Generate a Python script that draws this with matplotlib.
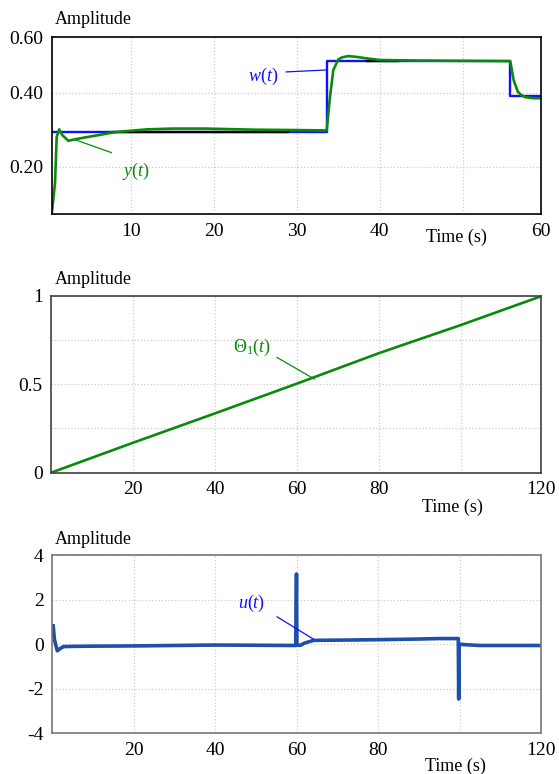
import numpy as np
import matplotlib
matplotlib.use("Agg")
import matplotlib.pyplot as plt

plt.rcParams['font.family'] = ['Liberation Serif', 'DejaVu Serif']
plt.rcParams['mathtext.fontset'] = 'custom'
plt.rcParams['mathtext.rm'] = 'Liberation Serif'
plt.rcParams['mathtext.it'] = 'Liberation Serif:italic'

# ---- panel 1 : set point w(t) and output y(t)
w_t = [0.5, 33.6, 33.6, 55.7, 55.7, 59.4]
w_val = [0.295, 0.295, 0.514, 0.514, 0.391, 0.391]
y_t = [0.5, 0.9, 1.1, 1.4, 1.8, 2.5, 3.3, 4.5, 6.3, 8.0, 9.9, 12, 15, 19, 25, 30, 33.6,
       34.0, 34.4, 35.0, 35.5, 36.2, 37.0, 38.4, 40, 44.8, 50, 55.7, 56.1, 56.6, 57.0, 57.5, 58.5, 59.4]
y_val = [0.071, 0.156, 0.281, 0.301, 0.285, 0.270, 0.274, 0.279, 0.286, 0.293, 0.297, 0.301, 0.303, 0.303, 0.300, 0.299, 0.298,
         0.389, 0.482, 0.520, 0.528, 0.532, 0.530, 0.524, 0.518, 0.516, 0.515, 0.514, 0.446, 0.404, 0.394, 0.388, 0.385, 0.385]
ref_t = [7.9, 29.0, np.nan, 38.5, 42.2]
ref_val = [0.295, 0.295, np.nan, 0.514, 0.514]

# ---- panel 2 : Theta_1(t)
th_t = [0, 20, 40, 60, 80, 100, 120]
th_val = [0.0, 0.169, 0.335, 0.503, 0.675, 0.834, 1.0]

# ---- panel 3 : control u(t)
u_t = [0.3, 0.6, 1.3, 2.0, 2.8, 5, 10, 20, 30, 40, 50, 59.8, 60.0, 60.1, 60.3, 61, 62, 64.2, 70, 80, 90, 95, 99.7,
       99.8, 99.9, 100.1, 101, 105, 110, 120]
u_val = [0.82, 0.2, -0.30, -0.2, -0.11, -0.10, -0.09, -0.08, -0.06, -0.04, -0.05, -0.06, 3.15, 0.05, -0.05, -0.05, 0.05, 0.17, 0.18, 0.20, 0.23, 0.25, 0.25,
         -2.46, -0.02, 0.0, -0.02, -0.06, -0.06, -0.06]

# piecewise-linear y scale of the top panel (gridlines are not evenly spaced)
v_pts = [0.071 - 1, 0.071, 0.2, 0.4, 0.6, 1.6]
p_pts = [-370, 0, 47.6, 121.6, 177, 454]
fwd = lambda v: np.interp(v, v_pts, p_pts)
inv = lambda p: np.interp(p, p_pts, v_pts)

W, H = 559, 774
fig = plt.figure(figsize=(W / 100, H / 100), dpi=100)

def px_axes(l, t, r, b):
    return fig.add_axes([l / W, 1 - b / H, (r - l) / W, (b - t) / H])

def style(ax, edge):
    for s in ax.spines.values():
        s.set_color(edge)
        s.set_linewidth(1.2)
    ax.tick_params(length=0, labelsize=14, pad=6)
    ax.grid(True, color='#cccccc', linestyle=':', linewidth=0.9)
    ax.set_axisbelow(True)

blue = '#1010ff'
green = '#0a8a0a'
ublue = '#1f4fa8'

# ---------------- panel 1
ax1 = px_axes(51.7, 37.3, 541, 214.3)
ax1.set_yscale('function', functions=(fwd, inv))
ax1.plot(w_t, w_val, color=blue, lw=1.7)
ax1.plot(ref_t, ref_val, color='black', lw=1.7)
ax1.plot(y_t, y_val, color=green, lw=1.9)
ax1.set_xlim(0.5, 59.4)
ax1.set_ylim(0.071, 0.6)
ax1.set_xticks([10, 20, 30, 40, 50, 59.4])
ax1.set_xticklabels(['10', '20', '30', '40', '', '60'])
ax1.set_yticks([0.2, 0.4, 0.6])
ax1.set_yticklabels(['0.20', '0.40', '0.60'])
ax1.yaxis.set_minor_locator(matplotlib.ticker.NullLocator())
style(ax1, 'black')
ax1.text(25.9, 0.457, r'$w(t)$', color=blue, fontsize=13, ha='center', va='center')
ax1.annotate('', xy=(33.5, 0.482), xytext=(28.7, 0.475),
             arrowprops=dict(arrowstyle='-', color=blue, lw=0.9, shrinkA=0, shrinkB=0))
ax1.text(10.6, 0.186, r'$y(t)$', color=green, fontsize=13, ha='center', va='center')
ax1.annotate('', xy=(3.3, 0.273), xytext=(7.7, 0.238),
             arrowprops=dict(arrowstyle='-', color=green, lw=0.9, shrinkA=0, shrinkB=0))

# ---------------- panel 2
ax2 = px_axes(51, 295.7, 541, 472.7)
ax2.plot(th_t, th_val, color=green, lw=1.9)
ax2.set_xlim(0, 119.6)
ax2.set_ylim(0, 1)
ax2.set_xticks([20, 40, 60, 80, 100, 119.6])
ax2.set_xticklabels(['20', '40', '60', '80', '', '120'])
ax2.set_yticks([0, 0.25, 0.5, 0.75, 1])
ax2.set_yticklabels(['0', '', '0.5', '', '1'])
style(ax2, '#404040')
ax2.text(49, 0.708, r'$\Theta_1(t)$', color=green, fontsize=13, ha='center', va='center')
ax2.annotate('', xy=(64.3, 0.529), xytext=(55.1, 0.652),
             arrowprops=dict(arrowstyle='-', color=green, lw=0.9, shrinkA=0, shrinkB=0))

# ---------------- panel 3
ax3 = px_axes(52, 555, 541, 733.3)
ax3.plot(u_t, u_val, color=ublue, lw=2.6)
ax3.set_xlim(0, 120)
ax3.set_ylim(-4, 4)
ax3.set_xticks([20, 40, 60, 80, 100, 120])
ax3.set_xticklabels(['20', '40', '60', '80', '', '120'])
ax3.set_yticks([-4, -2, 0, 2, 4])
ax3.set_yticklabels(['-4', '-2', '0', '2', '4'])
style(ax3, '#777777')
ax3.text(49.1, 1.83, r'$u(t)$', color=blue, fontsize=13, ha='center', va='center')
ax3.annotate('', xy=(64.2, 0.22), xytext=(55.2, 1.23),
             arrowprops=dict(arrowstyle='-', color=blue, lw=0.9, shrinkA=0, shrinkB=0))

# axis titles
for (x, y) in [(55, 20), (55, 280), (55, 540)]:
    fig.text(x / W, 1 - y / H, 'Amplitude', fontsize=13, ha='left', va='center')
for (x, y) in [(456.7, 237.5), (452.5, 507), (455, 766.5)]:
    fig.text(x / W, 1 - y / H, 'Time (s)', fontsize=13, ha='center', va='center')

fig.savefig('out.png', dpi=100)
